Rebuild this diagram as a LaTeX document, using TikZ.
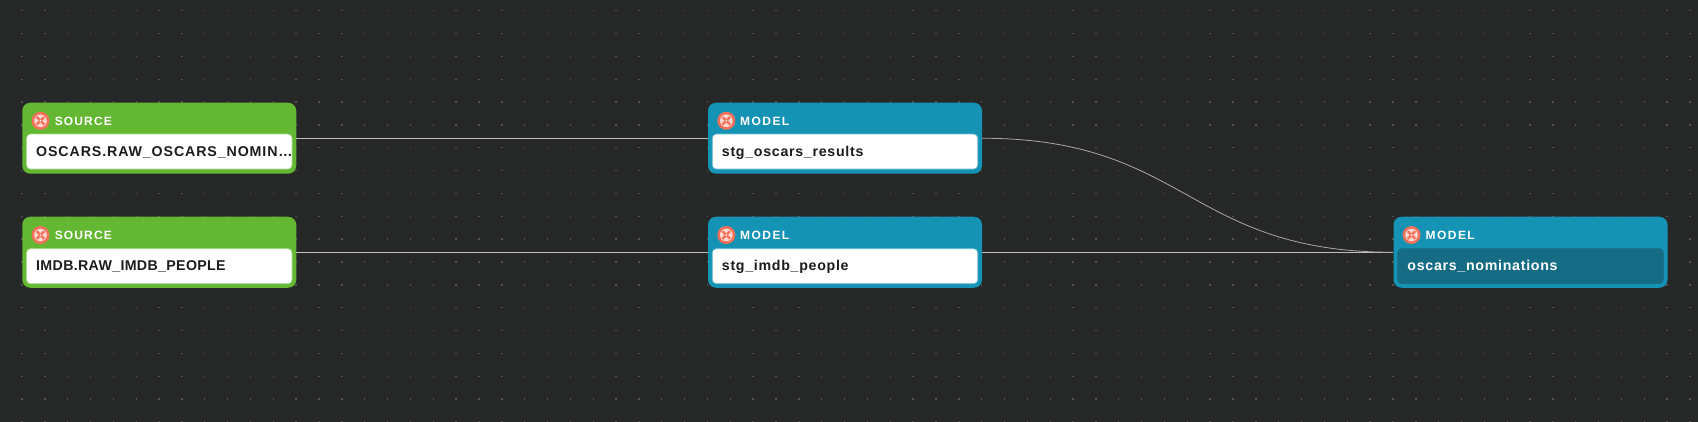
\documentclass[tikz,border=0pt]{standalone}
\usepackage{fontspec}
\setmainfont{Liberation Sans}
\newfontfamily\hdrfont[LetterSpace=12]{Liberation Sans Bold}
\newfontfamily\srchdrfont[LetterSpace=9.5]{Liberation Sans Bold}
\newfontfamily\lblfont[LetterSpace=5]{Liberation Sans Bold}
\newfontfamily\lblwidefont[LetterSpace=6.3]{Liberation Sans Bold}
\newfontfamily\lblnarrowfont[LetterSpace=2.4]{Liberation Sans Bold}
\definecolor{bgc}{HTML}{262727}
\definecolor{dotc}{HTML}{525252}
\definecolor{srcc}{HTML}{63B732}
\definecolor{srce}{HTML}{A9D98F}
\definecolor{modc}{HTML}{1593B5}
\definecolor{mode}{HTML}{6DBBD0}
\definecolor{selc}{HTML}{156C84}
\definecolor{inkc}{HTML}{1C1C1F}
\definecolor{edgec}{HTML}{BDBDBD}
\definecolor{curvec}{HTML}{A8A8A8}
\definecolor{coral}{HTML}{F7705A}
\definecolor{pale}{HTML}{FBD9D2}
\tikzset{
  card/.style={rectangle,rounded corners=8pt,minimum width=274pt,minimum height=71pt,inner sep=0pt,draw=none},
  srccard/.style={card,fill=srcc},
  modcard/.style={card,fill=modc},
  namebox/.style={rectangle,rounded corners=4pt,minimum width=265.5pt,minimum height=35pt,inner sep=0pt,line width=0.7pt},
  srcname/.style={namebox,fill=white,draw=srce},
  modname/.style={namebox,fill=white,draw=mode},
  selname/.style={namebox,fill=selc,draw=selc},
  kind/.style={anchor=base west,inner sep=0pt,text=white,font=\fontsize{12}{14}\hdrfont},
  srckind/.style={kind,font=\fontsize{12}{14}\srchdrfont},
  lbl/.style={anchor=base west,inner sep=0pt,text=inkc,font=\fontsize{14.2}{16}\lblfont},
  lblwide/.style={lbl,font=\fontsize{14.2}{16}\lblwidefont},
  lblnarrow/.style={lbl,font=\fontsize{14.2}{16}\lblnarrowfont},
  sellbl/.style={lbl,text=white},
  badge/.style={circle,fill=coral,minimum size=18pt,inner sep=0pt},
  edge/.style={draw=edgec,line width=0.9pt},
  curveedge/.style={draw=curvec,line width=0.8pt},
  pics/dbtmark/.style={code={
    \fill[pale] (0,0) circle (6.3pt);
    \draw[coral,line width=2.3pt] (-3.8pt,-3.8pt) -- (3.8pt,3.8pt) (-3.8pt,3.8pt) -- (3.8pt,-3.8pt);
    \fill[pale] (0,0) circle (1.1pt);
  }}
}
\begin{document}
\begin{tikzpicture}[x=1pt,y=-1pt]
\useasboundingbox (0,0) rectangle (1698,422);
\fill[bgc] (0,0) rectangle (1698,422);
\foreach \i in {0,...,74}{
  \foreach \j in {0,...,18}{
    \fill[dotc] ({-0.9+22.85*\i-0.7},{10.7+22.85*\j-0.7}) rectangle ++(1.4,1.4);
  }
}
% cards
\node[srccard] (s1) at (159.25,138.25) {};
\node[srccard] (s2) at (159.25,252.25) {};
\node[modcard] (m1) at (845,138.25) {};
\node[modcard] (m2) at (845,252.25) {};
\node[modcard] (m3) at (1530.5,252.25) {};
% connectors
\draw[edge] (s1.east) -- (m1.west);
\draw[edge] (s2.east) -- (m2.west);
\draw[edge] (m2.east) -- (m3.west);
\draw[curveedge] (m1.east) .. controls (1187.5,138.25) and (1187.5,252.25) .. (m3.west);
% name boxes
\node[srcname] (sn1) at (159.25,151.6) {};
\node[srcname] (sn2) at (159.25,266.2) {};
\node[modname] (mn1) at (845,151.6) {};
\node[modname] (mn2) at (845,266.2) {};
\node[selname] (mn3) at (1530.5,266.2) {};
% badges
\node[badge] (b1) at (40.5,120.8) {};
\node[badge] (b2) at (40.5,235) {};
\node[badge] (b3) at (726.3,120.8) {};
\node[badge] (b4) at (726.3,235) {};
\node[badge] (b5) at (1411.5,235) {};
\foreach \b in {b1,b2,b3,b4,b5}{ \pic at (\b.center) {dbtmark}; }
% kind texts
\node[srckind] (k1) at (54.6,125.1) {SOURCE};
\node[srckind] (k2) at (54.6,239.2) {SOURCE};
\node[kind] (k3) at (740,125.1) {MODEL};
\node[kind] (k4) at (740,239.2) {MODEL};
\node[kind] (k5) at (1425.5,239.2) {MODEL};
% labels
\node[lblwide] (l1) at (36,156.6) {OSCARS.RAW\_OSCARS\_NOMIN…};
\node[lblnarrow] (l2) at (36,270.2) {IMDB.RAW\_IMDB\_PEOPLE};
\node[lbl] (l3) at (721.7,156.6) {stg\_oscars\_results};
\node[lbl] (l4) at (721.7,270.2) {stg\_imdb\_people};
\node[sellbl] (l5) at (1407.2,270.2) {oscars\_nominations};
\end{tikzpicture}
\end{document}
